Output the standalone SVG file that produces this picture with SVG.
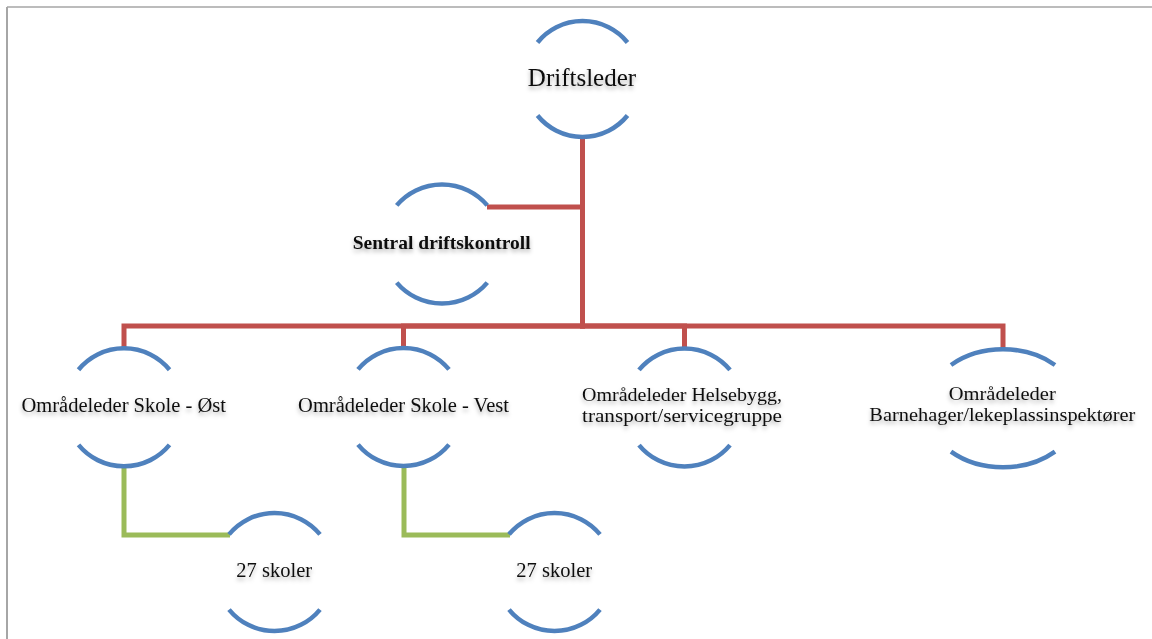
<svg xmlns="http://www.w3.org/2000/svg" width="1152" height="639" viewBox="0 0 1152 639">
  <defs>
    <filter id="textShadow" x="-10%" y="-40%" width="120%" height="200%">
      <feDropShadow dx="0" dy="3" stdDeviation="2" flood-color="#000" flood-opacity="0.3"/>
    </filter>
    <style>
      .frame { stroke: #a6a6a6; fill: none; }
      .arc { fill: none; stroke: #4f81bd; stroke-width: 4.5; }
      .link-red { fill: none; stroke: #c0504d; stroke-width: 5; stroke-linejoin: miter; }
      .link-green { fill: none; stroke: #9bbb59; stroke-width: 5; stroke-linejoin: miter; }
      .label { font-family: "Liberation Serif", "Times New Roman", serif; font-size: 20.5px; fill: #111; text-anchor: middle; filter: url(#textShadow); }
      .big { font-size: 25px; }
      .bold { font-weight: bold; font-size: 19.5px; }
      .two { font-size: 18.5px; }
    </style>
  </defs>

  <rect width="1152" height="639" fill="#ffffff"/>

  <!-- page frame -->
  <line class="frame" x1="7" y1="7" x2="1152" y2="7" stroke-width="1.5"/>
  <line class="frame" x1="7" y1="7" x2="7" y2="639" stroke-width="2"/>

  <!-- connectors -->
  <g id="connectors">
    <path class="link-red" d="M582.5 136 V326 H124 V348"/>
    <path class="link-red" d="M582.5 136 V326 H403.5 V348"/>
    <path class="link-red" d="M582.5 136 V326 H684.5 V348"/>
    <path class="link-red" d="M582.5 136 V326 H1003 V349"/>
    <path class="link-red" d="M582.5 136 V207 H487"/>
    <path class="link-green" d="M124 466 V535 H230"/>
    <path class="link-green" d="M404 466 V535 H510"/>
  </g>

  <!-- Driftsleder -->
  <g id="node-driftsleder">
    <path class="arc" d="M537.5 42.5 A58 58 0 0 1 627.5 42.5"/>
    <path class="arc" d="M537.5 115.5 A58 58 0 0 0 627.5 115.5"/>
    <text class="label big" x="582" y="86">Driftsleder</text>
  </g>

  <!-- Sentral driftskontroll -->
  <g id="node-sentral">
    <path class="arc" d="M396.7 205.4 A59.5 59.5 0 0 1 487.3 205.4"/>
    <path class="arc" d="M396.7 282.6 A59.5 59.5 0 0 0 487.3 282.6"/>
    <text class="label bold" x="441.7" y="249">Sentral driftskontroll</text>
  </g>

  <!-- Områdeleder Skole - Øst -->
  <g id="node-skole-ost">
    <path class="arc" d="M78.5 369.7 A59 59 0 0 1 169.5 369.7"/>
    <path class="arc" d="M78.5 444.9 A59 59 0 0 0 169.5 444.9"/>
    <text class="label" x="123.7" y="412">Områdeleder Skole - Øst</text>
  </g>

  <!-- Områdeleder Skole - Vest -->
  <g id="node-skole-vest">
    <path class="arc" d="M358 369.4 A59 59 0 0 1 449 369.4"/>
    <path class="arc" d="M358 444.6 A59 59 0 0 0 449 444.6"/>
    <text class="label" x="403.5" y="411.7">Områdeleder Skole - Vest</text>
  </g>

  <!-- Områdeleder Helsebygg -->
  <g id="node-helsebygg">
    <path class="arc" d="M639 369.9 A59 59 0 0 1 730 369.9"/>
    <path class="arc" d="M639 445.1 A59 59 0 0 0 730 445.1"/>
    <text class="label two" x="682" y="401" textLength="200" lengthAdjust="spacingAndGlyphs">Områdeleder Helsebygg,</text>
    <text class="label two" x="682" y="422" textLength="200" lengthAdjust="spacingAndGlyphs">transport/servicegruppe</text>
  </g>

  <!-- Områdeleder Barnehager -->
  <g id="node-barnehager">
    <path class="arc" d="M951 365 A76.6 59 0 0 1 1055 365"/>
    <path class="arc" d="M951 451.6 A76.6 59 0 0 0 1055 451.6"/>
    <text class="label two" x="1002.3" y="399.5" textLength="107" lengthAdjust="spacingAndGlyphs">Områdeleder</text>
    <text class="label two" x="1002.3" y="420.5" textLength="266" lengthAdjust="spacingAndGlyphs">Barnehager/lekeplassinspektører</text>
  </g>

  <!-- 27 skoler (Øst) -->
  <g id="node-skoler-ost">
    <path class="arc" d="M229 534.4 A59 59 0 0 1 320 534.4"/>
    <path class="arc" d="M229 609.6 A59 59 0 0 0 320 609.6"/>
    <text class="label" x="274.2" y="576.6">27 skoler</text>
  </g>

  <!-- 27 skoler (Vest) -->
  <g id="node-skoler-vest">
    <path class="arc" d="M509 534.4 A59 59 0 0 1 600 534.4"/>
    <path class="arc" d="M509 609.6 A59 59 0 0 0 600 609.6"/>
    <text class="label" x="554.2" y="576.6">27 skoler</text>
  </g>
</svg>
